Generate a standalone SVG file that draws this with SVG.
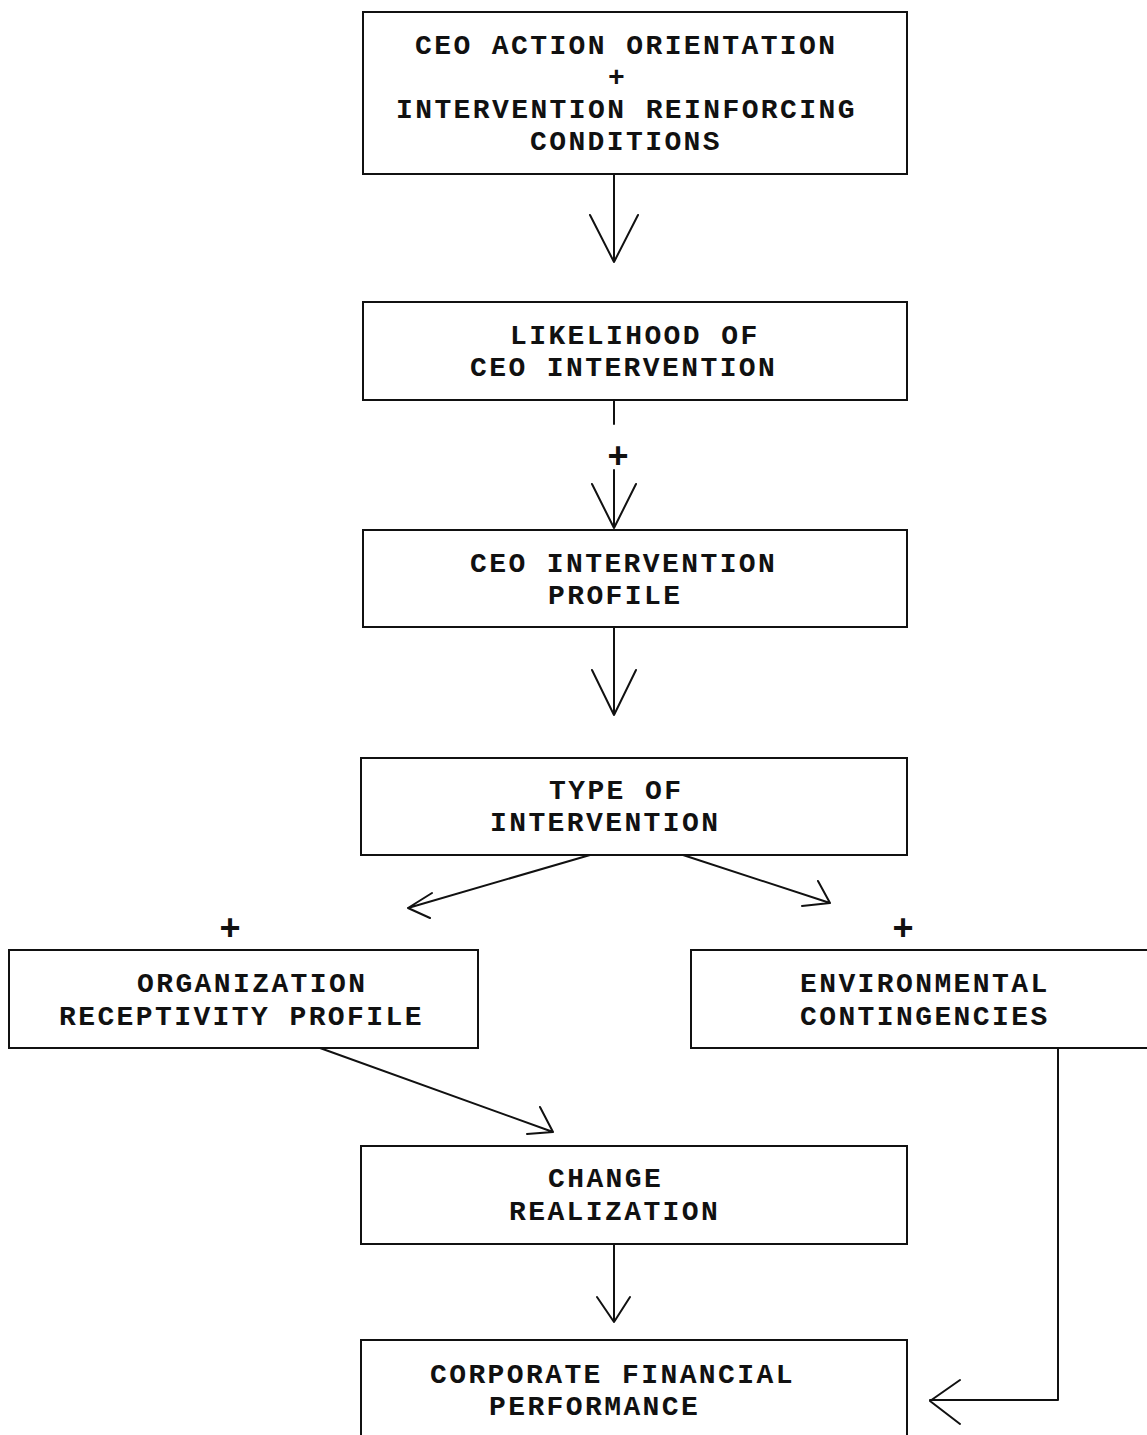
<svg xmlns="http://www.w3.org/2000/svg" width="1147" height="1435" viewBox="0 0 1147 1435">
<style>
.box{fill:#fff;stroke:#111;stroke-width:2}
.t{font-family:"Liberation Mono","Courier New",monospace;font-size:28px;letter-spacing:2.4px;font-weight:bold;fill:#111}
.p{font-family:"Liberation Mono","Courier New",monospace;font-size:36px;font-weight:bold;fill:#111;text-anchor:middle}
.c{fill:none;stroke:#111;stroke-width:2;stroke-linecap:round;stroke-linejoin:round}
</style>
<rect width="1147" height="1435" fill="#fff"/>
<g id="n1"><rect class="box" x="363" y="12" width="544" height="162"/>
<text class="t" x="415" y="54">CEO ACTION ORIENTATION</text>
<text class="t" x="608" y="86">+</text>
<text class="t" x="396" y="118">INTERVENTION REINFORCING</text>
<text class="t" x="530" y="150">CONDITIONS</text></g>
<g id="n2"><rect class="box" x="363" y="302" width="544" height="98"/>
<text class="t" x="510" y="344">LIKELIHOOD OF</text>
<text class="t" x="470" y="376">CEO INTERVENTION</text></g>
<g id="n3"><rect class="box" x="363" y="530" width="544" height="97"/>
<text class="t" x="470" y="572">CEO INTERVENTION</text>
<text class="t" x="548" y="604">PROFILE</text></g>
<g id="n4"><rect class="box" x="361" y="758" width="546" height="97"/>
<text class="t" x="549" y="799">TYPE OF</text>
<text class="t" x="490" y="831">INTERVENTION</text></g>
<g id="n5"><rect class="box" x="9" y="950" width="469" height="98"/>
<text class="t" x="137" y="992">ORGANIZATION</text>
<text class="t" x="59" y="1025">RECEPTIVITY PROFILE</text></g>
<g id="n6"><rect class="box" x="691" y="950" width="470" height="98"/>
<text class="t" x="800" y="992">ENVIRONMENTAL</text>
<text class="t" x="800" y="1025">CONTINGENCIES</text></g>
<g id="n7"><rect class="box" x="361" y="1146" width="546" height="98"/>
<text class="t" x="548" y="1187">CHANGE</text>
<text class="t" x="509" y="1220">REALIZATION</text></g>
<g id="n8"><rect class="box" x="361" y="1340" width="546" height="110"/>
<text class="t" x="430" y="1383">CORPORATE FINANCIAL</text>
<text class="t" x="489" y="1415">PERFORMANCE</text></g>
<g id="connectors">
<path class="c" d="M614 174V262M590 215L614 262L638 215"/>
<path class="c" d="M614 400V424M614 470V528M592 484L614 528L636 484"/>
<text class="p" x="618" y="468">+</text>
<path class="c" d="M590 855L408 908M432 893L408 908L430 918"/>
<path class="c" d="M683 855L830 903M818 881L830 903L802 906"/>
<text class="p" x="230" y="940">+</text>
<text class="p" x="903" y="940">+</text>
<path class="c" d="M614 627V715M592 670L614 715L636 670"/>
<path class="c" d="M320 1048L553 1132M540 1107L553 1132L527 1134"/>
<path class="c" d="M614 1244V1322M597 1297L614 1322L630 1297"/>
<path class="c" d="M1058 1048V1400H930M960 1380L930 1401L960 1424"/>
</g>
</svg>
